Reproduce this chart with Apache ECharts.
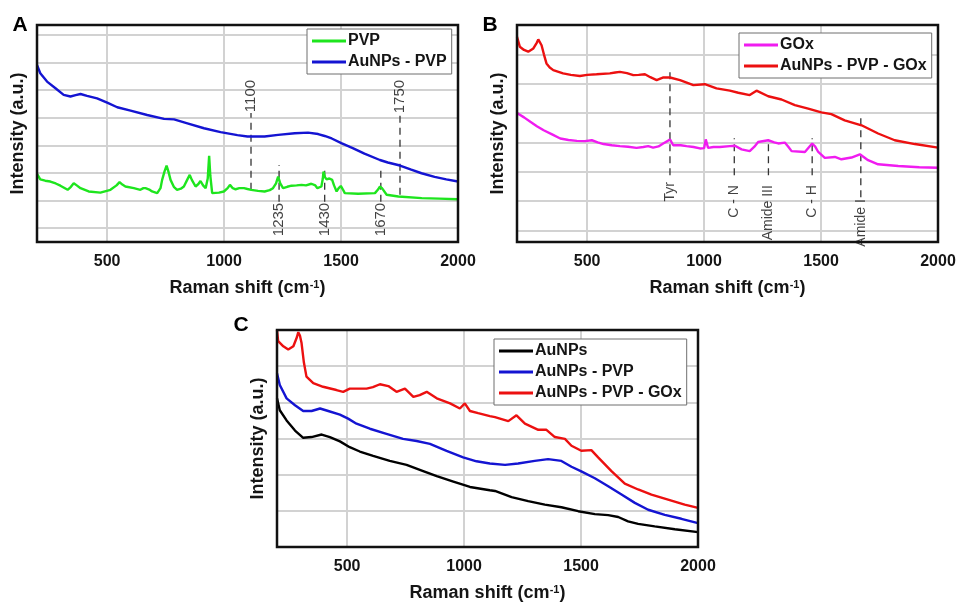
<!DOCTYPE html>
<html lang="en">
<head>
<meta charset="UTF-8">
<title>Raman spectra</title>
<script src="https://cdn.jsdelivr.net/npm/echarts@6/dist/echarts.min.js"></script>
<style>
    *{margin:0;padding:0;}
    body{background:#fff;overflow:hidden;}
    #main{width:959px;height:603px;}
</style>
</head>
<body>
<div id="main"></div>
<script>
// spectra as [Raman shift (cm-1), intensity (a.u.)]
// panel A
var pvpA = [[200,1.97],[214,1.77],[235,1.72],[257,1.69],[280,1.62],[300,1.54],[331,1.39],[345,1.50],[357,1.63],[370,1.55],[386,1.45],[421,1.33],[471,1.29],[514,1.39],[540,1.55],[553,1.67],[565,1.58],[578,1.51],[614,1.45],[642,1.39],[655,1.45],[664,1.45],[680,1.40],[692,1.33],[714,1.27],[728,1.45],[735,1.75],[745,2.05],[754,2.27],[762,2.05],[771,1.75],[785,1.50],[799,1.39],[815,1.43],[828,1.51],[842,1.75],[853,1.93],[862,1.75],[878,1.51],[890,1.60],[899,1.71],[910,1.55],[921,1.45],[930,1.80],[936,2.62],[941,1.90],[949,1.27],[978,1.29],[999,1.33],[1015,1.45],[1025,1.57],[1037,1.45],[1049,1.41],[1065,1.45],[1085,1.45],[1100,1.42],[1116,1.39],[1145,1.35],[1173,1.33],[1195,1.38],[1209,1.45],[1222,1.62],[1231,1.87],[1240,1.62],[1252,1.45],[1270,1.50],[1288,1.54],[1310,1.55],[1331,1.57],[1350,1.55],[1373,1.61],[1390,1.55],[1399,1.45],[1416,1.51],[1422,1.80],[1425,2.05],[1431,1.85],[1438,1.77],[1450,1.80],[1462,1.75],[1470,1.55],[1481,1.33],[1490,1.45],[1499,1.53],[1508,1.40],[1516,1.27],[1573,1.25],[1645,1.27],[1658,1.40],[1666,1.51],[1675,1.45],[1695,1.21],[1745,1.15],[1845,1.09],[1920,1.07],[2000,1.05]];
var aunpsPvpA = [[200,5.91],[214,5.61],[243,5.31],[279,5.07],[314,4.83],[343,4.77],[365,4.82],[386,4.86],[414,4.79],[457,4.70],[500,4.55],[543,4.38],[600,4.26],[671,4.10],[743,3.96],[786,3.94],[843,3.80],[914,3.62],[985,3.48],[1057,3.37],[1100,3.32],[1173,3.32],[1231,3.38],[1302,3.44],[1359,3.46],[1402,3.41],[1430,3.34],[1460,3.25],[1501,3.08],[1550,2.90],[1600,2.70],[1666,2.47],[1700,2.38],[1752,2.27],[1800,2.12],[1844,1.99],[1900,1.86],[1950,1.77],[2000,1.69]];
var peaksA = [1115, 1235, 1430, 1670, 1752];
var peakNamesA = ['1100', '1235', '1430', '1670', '1750'];

// panel B
var goxB = [[200,4.00],[230,3.85],[257,3.70],[285,3.55],[314,3.41],[350,3.27],[385,3.13],[420,3.08],[456,3.05],[490,3.04],[520,3.07],[545,3.00],[570,2.94],[605,2.90],[640,2.87],[675,2.85],[711,2.81],[740,2.84],[761,2.87],[782,2.82],[805,2.86],[825,2.96],[845,3.05],[854,3.10],[868,2.90],[900,2.90],[925,2.87],[955,2.84],[982,2.79],[1000,2.80],[1007,3.10],[1017,2.81],[1040,2.84],[1067,2.84],[1110,2.87],[1132,2.88],[1160,2.76],[1195,2.70],[1215,2.85],[1231,3.01],[1274,3.07],[1300,3.00],[1317,2.96],[1345,2.99],[1360,2.85],[1374,2.70],[1431,2.67],[1450,2.85],[1462,2.96],[1475,2.85],[1488,2.67],[1516,2.47],[1559,2.50],[1587,2.42],[1630,2.48],[1666,2.59],[1701,2.39],[1744,2.25],[1830,2.19],[1920,2.15],[2000,2.13]];
var aunpsPvpGoxB = [[200,6.60],[212,6.26],[230,6.15],[248,6.09],[270,6.20],[285,6.40],[291,6.51],[298,6.45],[305,6.31],[315,6.00],[326,5.69],[340,5.55],[355,5.46],[397,5.35],[430,5.30],[469,5.26],[500,5.30],[540,5.32],[597,5.35],[620,5.38],[640,5.40],[670,5.36],[697,5.29],[720,5.30],[747,5.32],[770,5.22],[797,5.12],[826,5.21],[854,5.21],[897,5.12],[954,4.95],[1003,4.98],[1053,4.84],[1110,4.76],[1146,4.69],[1195,4.61],[1224,4.76],[1274,4.57],[1331,4.46],[1388,4.27],[1445,4.15],[1501,4.02],[1544,3.96],[1601,3.75],[1673,3.58],[1744,3.30],[1815,3.07],[1901,2.94],[2000,2.82]];
var peaksB = [854, 1129, 1275, 1462, 1670];
var peakNamesB = ['Tyr', 'C - N', 'Amide III', 'C - H', 'Amide I'];

// panel C
var aunpsC = [[200,4.11],[212,3.78],[241,3.50],[277,3.22],[312,3.02],[348,3.04],[391,3.11],[426,3.04],[469,2.92],[511,2.76],[554,2.64],[611,2.52],[682,2.38],[754,2.27],[825,2.10],[883,1.96],[954,1.81],[1025,1.66],[1110,1.57],[1132,1.55],[1203,1.38],[1274,1.27],[1345,1.17],[1416,1.10],[1488,0.99],[1559,0.91],[1616,0.88],[1659,0.83],[1701,0.71],[1744,0.64],[1815,0.57],[1901,0.49],[2000,0.41]];
var aunpsPvpC = [[200,4.80],[212,4.48],[241,4.11],[277,3.92],[312,3.76],[348,3.76],[384,3.83],[419,3.76],[469,3.66],[504,3.55],[540,3.41],[597,3.27],[668,3.13],[739,2.99],[797,2.93],[854,2.85],[925,2.66],[996,2.48],[1053,2.37],[1110,2.31],[1175,2.27],[1231,2.31],[1302,2.38],[1359,2.43],[1416,2.38],[1459,2.22],[1501,2.09],[1559,1.90],[1616,1.68],[1673,1.45],[1730,1.22],[1787,1.03],[1858,0.89],[1929,0.78],[2000,0.66]];
var aunpsPvpGoxC = [[200,6.00],[205,5.69],[227,5.55],[248,5.46],[270,5.55],[285,5.80],[291,5.94],[298,5.85],[305,5.64],[315,5.10],[326,4.71],[355,4.53],[397,4.43],[454,4.34],[483,4.29],[511,4.38],[550,4.38],[583,4.38],[610,4.42],[640,4.50],[676,4.45],[711,4.29],[747,4.38],[783,4.15],[810,4.20],[840,4.29],[883,4.11],[940,3.97],[982,3.83],[1003,3.97],[1025,3.76],[1060,3.70],[1110,3.62],[1132,3.59],[1189,3.48],[1224,3.64],[1260,3.41],[1317,3.24],[1352,3.24],[1388,3.04],[1431,2.99],[1459,2.80],[1501,2.66],[1544,2.68],[1573,2.48],[1630,2.10],[1687,1.75],[1744,1.59],[1801,1.45],[1872,1.31],[1943,1.17],[2000,1.08]];

var FONT = '"Liberation Sans", Arial, sans-serif';
var INK = '#151515';
var GRIDLINE = '#d2d2d2';

// dashed marker extents [bottom, top] and label anchor (top end of text), in y units
var dashA = [[1.39,4.17],[0.96,2.29],[0.96,2.26],[0.96,2.26],[1.21,4.10]];
var tagA = [5.37, 0.92, 0.92, 0.92, 5.37];
var dashB = [[1.88,5.53],[1.88,3.14],[1.88,3.07],[1.88,3.14],[1.13,3.99]];
var tagB = [1.64, 1.54, 1.54, 1.54, 1.06];

// panel boxes: left, top, width, height
var boxes = [[37, 25, 421, 217], [517, 25, 421, 217], [277, 330, 421, 217]];

var myChart = echarts.init(document.getElementById('main'));

function xAxisFor(gi) {
    return {
        type:'value', gridIndex:gi, min:200, max:2000, minInterval:500, maxInterval:500,
        axisLine:{show:false}, axisTick:{show:false},
        axisLabel:{
            margin:12, color:INK, fontSize:16, fontWeight:'bold', fontFamily:FONT,
            showMinLabel:false,
            formatter:function (v) { return v % 500 === 0 ? String(v) : ''; }
        },
        splitLine:{show:true, lineStyle:{color:GRIDLINE, width:2}},
        name:'{t|Raman shift (cm}{s|-1}{t|)}',
        nameLocation:'middle', nameGap:37,
        nameTextStyle:{
            rich:{
                t:{fontSize:18, fontWeight:'bold', fontFamily:FONT, color:INK},
                s:{fontSize:11, fontWeight:'bold', fontFamily:FONT, color:INK, verticalAlign:'top'}
            }
        }
    };
}

function yAxisFor(gi, lo, hi) {
    return {
        type:'value', gridIndex:gi, min:lo, max:hi, minInterval:1, maxInterval:1,
        axisLine:{show:false}, axisTick:{show:false}, axisLabel:{show:false},
        splitLine:{show:true, lineStyle:{color:GRIDLINE, width:2}},
        name:'Intensity (a.u.)', nameLocation:'middle', nameGap:10,
        nameTextStyle:{fontSize:18, fontWeight:'bold', fontFamily:FONT, color:INK}
    };
}

function spectrum(name, data, color, gi) {
    return {
        name:name, type:'line', xAxisIndex:gi, yAxisIndex:gi, data:data,
        showSymbol:false, symbol:'none', silent:true, z:3,
        lineStyle:{color:color, width:2.4}, itemStyle:{color:color}
    };
}

function markers(id, gi, xs, names, dash, tag, size) {
    var out = [];
    for (var i = 0; i < xs.length; i++) {
        out.push({
            name:id + i, type:'line', xAxisIndex:gi, yAxisIndex:gi, silent:true, z:2,
            showSymbol:false, symbol:'none',
            data:[[xs[i], dash[i][0]], [xs[i], dash[i][1]]],
            lineStyle:{color:'#333', width:1.3, type:[7, 5]}
        });
    }
    var pts = [];
    for (var j = 0; j < xs.length; j++) pts.push({value:[xs[j], tag[j]], label:{formatter:names[j]}});
    out.push({
        name:id + 'tags', type:'scatter', xAxisIndex:gi, yAxisIndex:gi, silent:true,
        symbolSize:0, data:pts,
        label:{show:true, position:'inside', rotate:90, align:'right', verticalAlign:'middle',
            color:'#111', fontSize:size, fontFamily:FONT}
    });
    return out;
}

function legendAt(left, top, names) {
    return {
        left:left, top:top, orient:'vertical', data:names, icon:'rect',
        itemWidth:34, itemHeight:3, itemGap:5, selectedMode:false,
        padding:[4, 5, 4, 5], borderColor:'#6f6f6f', borderWidth:1, backgroundColor:'#fff',
        textStyle:{fontSize:16, fontWeight:'bold', fontFamily:FONT, color:INK, padding:[0, 0, 0, -3]}
    };
}

function panelLetter(ch, x, y) {
    return {type:'text', x:x, y:y, z:10,
        style:{text:ch, fontSize:21, fontWeight:'bold', fontFamily:FONT, fill:'#000', align:'center', verticalAlign:'middle'}};
}

function frame(b) {
    return {type:'rect', z:20, silent:true,
        shape:{x:b[0], y:b[1], width:b[2], height:b[3]},
        style:{fill:null, stroke:'#111', lineWidth:2.5}};
}

option = {
    animation:false,
    backgroundColor:'#fff',
    grid:boxes.map(function (b) {
        return {left:b[0], top:b[1], width:b[2], height:b[3], show:false, containLabel:false};
    }),
    xAxis:[xAxisFor(0), xAxisFor(1), xAxisFor(2)],
    yAxis:[yAxisFor(0, -0.5, 7.36), yAxisFor(1, -0.4, 7.0), yAxisFor(2, 0, 6)],
    legend:[
        legendAt(307, 29, ['PVP', 'AuNPs - PVP']),
        legendAt(739, 33, ['GOx', 'AuNPs - PVP - GOx']),
        legendAt(494, 339, ['AuNPs', 'AuNPs - PVP', 'AuNPs - PVP - GOx'])
    ],
    graphic:[
        frame(boxes[0]), frame(boxes[1]), frame(boxes[2]),
        panelLetter('A', 20, 25), panelLetter('B', 490, 25), panelLetter('C', 241, 325)
    ],
    series:[]
        .concat(markers('mA', 0, peaksA, peakNamesA, dashA, tagA, 15))
        .concat(markers('mB', 1, peaksB, peakNamesB, dashB, tagB, 14))
        .concat([
            spectrum('PVP', pvpA, '#1ee51e', 0),
            spectrum('AuNPs - PVP', aunpsPvpA, '#1414d2', 0),
            spectrum('GOx', goxB, '#f01cf0', 1),
            spectrum('AuNPs - PVP - GOx', aunpsPvpGoxB, '#ec1010', 1),
            spectrum('AuNPs', aunpsC, '#000000', 2),
            spectrum('AuNPs - PVP', aunpsPvpC, '#1414d2', 2),
            spectrum('AuNPs - PVP - GOx', aunpsPvpGoxC, '#ec1010', 2)
        ])
};

myChart.setOption(option);
window.onresize = myChart.resize;
</script>
</body>
</html>
